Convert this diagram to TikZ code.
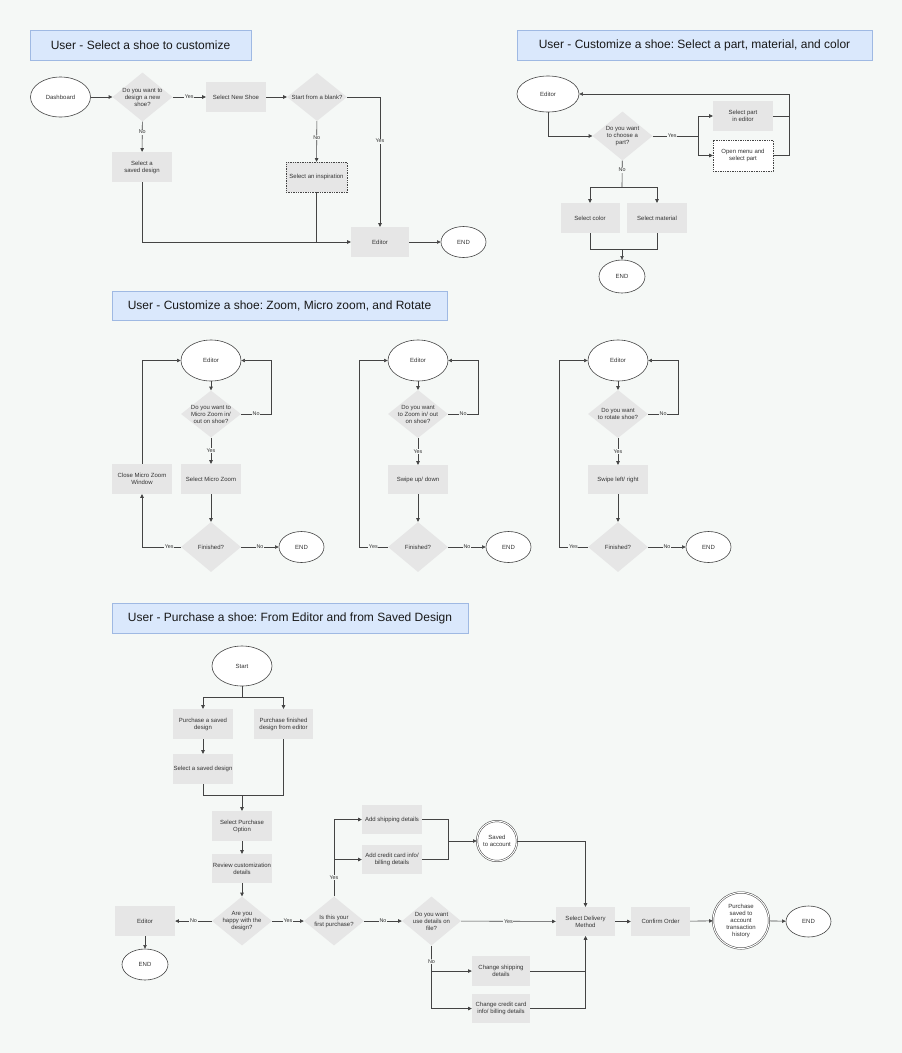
\documentclass[tikz,border=0pt]{standalone}
\usepackage{fontspec}
\setmainfont{Liberation Sans}
\frenchspacing
\usetikzlibrary{shapes.geometric, arrows.meta, calc}
\definecolor{bgColor}{HTML}{F5F8F6}
\definecolor{shapeGray}{HTML}{E6E6E6}
\definecolor{lineGray}{HTML}{444444}
\definecolor{textGray}{HTML}{333333}
\definecolor{titleFill}{HTML}{DAE8FC}
\definecolor{titleDraw}{HTML}{9FB9E3}
\tikzset{
    font=\fontsize{6}{7}\selectfont,
    >={Triangle[length=3.6pt, width=3.4pt]},
    % Shapes
    title/.style={rectangle, draw=titleDraw, fill=titleFill, line width=0.7pt,
                  minimum height=30, text=black!90, font=\fontsize{12}{14}\selectfont},
    proc/.style={rectangle, fill=shapeGray, minimum width=60, minimum height=30,
                 inner sep=1pt, align=center, text=textGray},
    dashbox/.style={proc, draw=lineGray, line width=0.4pt, dash pattern=on 1.4pt off 1pt},
    decision/.style={diamond, fill=shapeGray, inner sep=0pt, minimum width=60, minimum height=49,
                     label={[align=center, text=textGray]center:#1}},
    term/.style={ellipse, draw=lineGray, fill=white, line width=0.6pt, inner sep=0pt,
                 minimum width=60, minimum height=41, text=textGray},
    endterm/.style={term, minimum width=45, minimum height=31},
    store/.style={circle, draw=lineGray, fill=white, line width=0.5pt, double=white,
                  double distance=1pt, inner sep=0pt, align=center, text=textGray},
    % Flow & Labels
    link/.style={draw=lineGray, line width=0.6pt},
    flow/.style={link, ->},
    lbl/.style={fill=bgColor, font=\fontsize{5.4}{6}\selectfont, inner sep=0.6pt, text=textGray}
}

\begin{document}
\begin{tikzpicture}[x=1pt, y=-1pt]

\fill[bgColor] (0,0) rectangle (902,1053);
\useasboundingbox (0,0) rectangle (902,1053);

% Select a shoe
\node[title, minimum width=221] (t1) at (140.5,45.5) {User - Select a shoe to customize};
\node[term, minimum height=40] (dash) at (60.5,97) {Dashboard};
\node[decision={Do you want to\\design a new\\shoe?}] (newq) at (142.5,97) {};
\node[proc] (newshoe) at (236,97) {Select New Shoe};
\node[proc] (saveddes) at (142,167) {Select a\\saved design};
\node[decision={Start from a blank?}, minimum height=48] (blankq) at (317,97) {};
\node[dashbox, minimum width=61] (inspire) at (316.5,177) {Select an inspiration};
\node[proc, minimum width=58] (editor1) at (380,242) {Editor};
\node[endterm] (end1) at (463.5,242) {END};

\draw[flow] (dash) -- (newq);
\draw[flow] (newq) -- node[lbl] {Yes} (newshoe);
\draw[flow] (newq) -- node[lbl, pos=0.35] {No} (saveddes);
\draw[flow] (newshoe) -- (blankq);
\draw[flow] (blankq) -- node[lbl, pos=0.4] {No} (inspire);
\draw[flow] (blankq) -| node[lbl, pos=0.67] {Yes} (editor1);
\draw[flow] (saveddes) |- (editor1);
\draw[link] (inspire) -- (inspire |- editor1);
\draw[flow] (editor1) -- (end1);

% Select a part, material, and color
\node[title, minimum width=355] (t2) at (694.5,45.5) {User - Customize a shoe: Select a part, material, and color};
\node[term, minimum width=62, minimum height=36] (editor2) at (548,94) {Editor};
\node[decision={Do you want\\to choose a\\part?}] (partq) at (622.5,136) {};
\node[proc] (selpart) at (743,116) {Select part\\in editor};
\node[dashbox, fill=white, minimum height=31] (openmenu) at (743,155.5) {Open menu and\\select part};
\node[proc, minimum width=59] (selcolor) at (590,218) {Select color};
\node[proc] (selmat) at (657,218) {Select material};
\node[endterm, minimum width=46, minimum height=33] (end2) at (622,276.5) {END};
\coordinate (split2) at (698,136);
\coordinate (back2) at (789,94);
\coordinate (split3) at (622,187);
\coordinate (join3) at (622,249);

\draw[flow] (editor2) |- (partq);
\draw[link] (partq) -- node[lbl, pos=0.43] {Yes} (split2);
\draw[flow] (split2) |- (selpart);
\draw[flow] (split2) |- (openmenu);
\draw[flow] (selpart) -| (back2) -- (editor2);
\draw[link] (openmenu) -| (back2);
\draw[link] (partq) -- node[lbl, pos=0.36] {No} (split3);
\draw[flow] (split3) -| (selcolor);
\draw[flow] (split3) -| (selmat);
\draw[link] (selcolor) |- (join3);
\draw[link] (selmat) |- (join3);
\draw[flow] (join3) -- (end2);

% Zoom, Micro zoom, and Rotate
\node[title, minimum width=335, minimum height=29] (t3) at (279.5,305.5) {User - Customize a shoe: Zoom, Micro zoom, and Rotate};

\node[term] (editor3a) at (211,360.5) {Editor};
\node[decision={Do you want to\\Micro Zoom in/\\out on shoe?}, minimum height=47] (microq) at (211,414) {};
\node[proc] (selmicro) at (211,479) {Select Micro Zoom};
\node[proc] (closemicro) at (142,479) {Close Micro Zoom\\Window};
\node[decision={Finished?}, minimum height=50] (fin3a) at (211,547) {};
\node[endterm] (end3a) at (301.5,547) {END};
\coordinate (noA) at (271,414);

\draw[flow] (editor3a) -- (microq);
\draw[flow] (microq) -- node[lbl] {No} (noA) |- (editor3a);
\draw[flow] (microq) -- node[lbl] {Yes} (selmicro);
\draw[flow] (selmicro) -- (fin3a);
\draw[flow] (fin3a) -| node[lbl, pos=0.15] {Yes} (closemicro);
\draw[flow] (closemicro) |- (editor3a);
\draw[flow] (fin3a) -- node[lbl] {No} (end3a);

\node[term] (editor3b) at (418,360.5) {Editor};
\node[decision={Do you want\\to Zoom in/ out\\on shoe?}, minimum height=48] (zoomq) at (418,414) {};
\node[proc, minimum height=29] (swipeud) at (418,479.5) {Swipe up/ down};
\node[decision={Finished?}, minimum height=50] (fin3b) at (418,547) {};
\node[endterm] (end3b) at (508.5,547) {END};
\coordinate (noB) at (478,414);
\coordinate (yesB) at (359,547);

\draw[flow] (editor3b) -- (zoomq);
\draw[flow] (zoomq) -- node[lbl] {No} (noB) |- (editor3b);
\draw[flow] (zoomq) -- node[lbl] {Yes} (swipeud);
\draw[flow] (swipeud) -- (fin3b);
\draw[flow] (fin3b) -- node[lbl] {Yes} (yesB) |- (editor3b);
\draw[flow] (fin3b) -- node[lbl] {No} (end3b);

\node[term] (editor3c) at (618,360.5) {Editor};
\node[decision={Do you want\\to rotate shoe?}, minimum height=48] (rotateq) at (618,414) {};
\node[proc, minimum height=29] (swipelr) at (618,479.5) {Swipe left/ right};
\node[decision={Finished?}, minimum height=50] (fin3c) at (618,547) {};
\node[endterm] (end3c) at (708.5,547) {END};
\coordinate (noC) at (678,414);
\coordinate (yesC) at (559,547);

\draw[flow] (editor3c) -- (rotateq);
\draw[flow] (rotateq) -- node[lbl] {No} (noC) |- (editor3c);
\draw[flow] (rotateq) -- node[lbl] {Yes} (swipelr);
\draw[flow] (swipelr) -- (fin3c);
\draw[flow] (fin3c) -- node[lbl] {Yes} (yesC) |- (editor3c);
\draw[flow] (fin3c) -- node[lbl] {No} (end3c);

% Purchase a shoe
\node[title, minimum width=356] (t4) at (290,618) {User - Purchase a shoe: From Editor and from Saved Design};
\node[term, minimum height=40] (start) at (242,666) {Start};
\node[proc] (buysaved) at (203,724) {Purchase a saved\\design};
\node[proc, minimum width=59] (buyeditor) at (283.5,724) {Purchase finished\\design from editor};
\node[proc] (selsaved) at (203,769) {Select a saved design};
\node[proc] (selpurch) at (242,826) {Select Purchase\\Option};
\node[proc, minimum height=29] (review) at (242,868.5) {Review customization\\details};
\node[decision={Are you\\happy with the\\design?}] (happyq) at (242,921) {};
\node[proc] (editor4) at (145,921) {Editor};
\node[endterm, minimum width=46] (end4) at (145,964.5) {END};
\node[decision={Is this your\\first purchase?}] (firstq) at (334,921) {};
\node[decision={Do you want\\use details on\\file?}, minimum width=59] (detailsq) at (431.5,921) {};
\node[proc, minimum height=29] (addship) at (392,819.5) {Add shipping details};
\node[proc, minimum height=29] (addcard) at (392,859.5) {Add credit card info/\\billing details};
\node[store, minimum size=40] (saved) at (497,841) {Saved\\to account};
\node[proc, minimum width=58] (changeship) at (501,971) {Change shipping\\details};
\node[proc, minimum width=58, minimum height=29] (changecard) at (501,1008.5) {Change credit card\\info/ billing details};
\node[proc, minimum width=59, minimum height=29] (delivery) at (585.5,921.5) {Select Delivery\\Method};
\node[proc, minimum width=59, minimum height=29] (confirm) at (660.5,921.5) {Confirm Order};
\node[store, minimum size=56] (history) at (741,920.5) {Purchase\\saved to\\account\\transaction\\history};
\node[endterm] (end5) at (808.5,921.5) {END};
\coordinate (split4) at (242,697);
\coordinate (join4) at (242,795);
\coordinate (split5) at (firstq |- addcard);
\coordinate (join5) at (448,841);
\coordinate (split6) at (detailsq |- changecard);
\coordinate (split6a) at (detailsq |- changeship);

\draw[link] (start) -- (split4);
\draw[flow] (split4) -| (buysaved);
\draw[flow] (split4) -| (buyeditor);
\draw[flow] (buysaved) -- (selsaved);
\draw[link] (selsaved) |- (join4);
\draw[link] (buyeditor) |- (join4);
\draw[flow] (join4) -- (selpurch);
\draw[flow] (selpurch) -- (review);
\draw[flow] (review) -- (happyq);
\draw[flow] (happyq) -- node[lbl] {No} (editor4);
\draw[flow] (editor4) -- (end4);
\draw[flow] (happyq) -- node[lbl] {Yes} (firstq);
\draw[flow] (firstq) -- node[lbl] {No} (detailsq);
\draw[link] (firstq) -- node[lbl] {Yes} (split5);
\draw[flow] (split5) -- (addcard);
\draw[flow] (split5) |- (addship);
\draw[link] (addship) -| (join5);
\draw[link] (addcard) -| (join5);
\draw[flow] (join5) -- (saved);
\draw[flow] (saved) -| (delivery);
\draw[flow] (detailsq) -- node[lbl] {Yes} (delivery);
\draw[link] (detailsq) -- node[lbl, pos=0.25] {No} (split6);
\draw[flow] (split6a) -- (changeship);
\draw[flow] (split6) -- (changecard);
\draw[flow] (changeship) -| (delivery);
\draw[flow] (changecard) -| (delivery);
\draw[flow] (delivery) -- (confirm);
\draw[flow] (confirm) -- (history);
\draw[flow] (history) -- (end5);

\end{tikzpicture}
\end{document}
